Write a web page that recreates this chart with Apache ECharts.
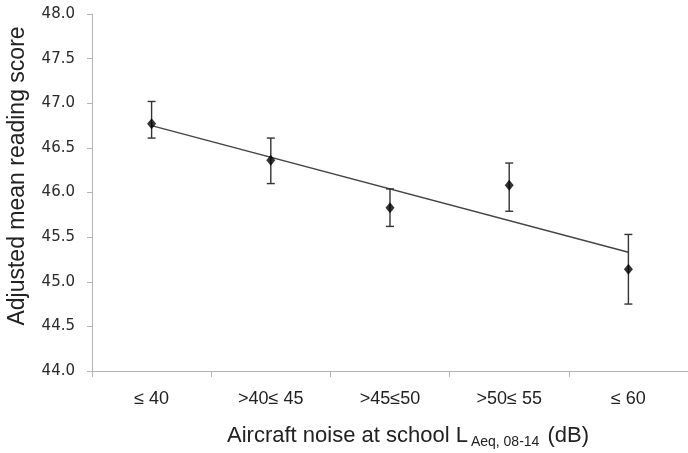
<!DOCTYPE html>
<html>
<head>
<meta charset="utf-8">
<script src="https://cdn.jsdelivr.net/npm/echarts@6/dist/echarts.min.js"></script>
<style>
  html, body { margin: 0; padding: 0; background: #fff; }
  #chart { width: 688px; height: 453px; }
</style>
</head>
<body>
<div id="chart"></div>
<script>
// Noise bands at school (dB)
const categories = ['≤ 40', '>40≤ 45', '>45≤50', '>50≤ 55', '≤ 60'];
// Adjusted mean reading score per band, with interval bounds
const means = [46.77, 46.36, 45.83, 46.08, 45.14];
const lower = [46.61, 46.10, 45.62, 45.79, 44.75];
const upper = [47.02, 46.61, 46.04, 46.33, 45.53];
// Fitted trend at the first and last band
const trendEnds = [46.75, 45.33];
// Y axis ticks
const yTicks = [44.0, 44.5, 45.0, 45.5, 46.0, 46.5, 47.0, 47.5, 48.0];

const chart = echarts.init(document.getElementById('chart'), null, { renderer: 'canvas' });

const axisGrey = '#b4b4b4';
const inkGrey = '#333333';

const option = {
  animation: false,
  backgroundColor: '#ffffff',
  grid: { left: 92, top: 14, width: 605, height: 357, containLabel: false },
  xAxis: {
    type: 'category',
    data: categories,
    boundaryGap: true,
    axisLine: { show: true, lineStyle: { color: axisGrey, width: 1 } },
    axisTick: { show: true, alignWithLabel: false, length: 6, lineStyle: { color: axisGrey } },
    axisLabel: {
      margin: 19,
      color: '#222',
      fontFamily: 'Liberation Sans, Arial, sans-serif',
      fontSize: 18
    },
    splitLine: { show: false }
  },
  yAxis: {
    type: 'value',
    min: yTicks[0],
    max: yTicks[yTicks.length - 1],
    interval: 0.5,
    axisLine: { show: true, lineStyle: { color: axisGrey, width: 1 } },
    axisTick: { show: true, length: 5, lineStyle: { color: axisGrey } },
    axisLabel: {
      margin: 17,
      color: '#2a2a2a',
      fontFamily: 'DejaVu Sans, Verdana, sans-serif',
      fontSize: 15,
      formatter: v => v.toFixed(1)
    },
    splitLine: { show: false }
  },
  graphic: [
    {
      type: 'text',
      x: 18,
      y: 176,
      rotation: Math.PI / 2,
      style: {
        text: 'Adjusted mean reading score',
        fill: '#222',
        font: '23px "Liberation Sans", Arial, sans-serif',
        textAlign: 'center',
        textVerticalAlign: 'middle'
      }
    },
    {
      type: 'text',
      x: 227,
      y: 436,
      style: {
        text: '{m|Aircraft noise at school L}{s|Aeq, 08-14}{m| (dB)}',
        textAlign: 'left',
        textVerticalAlign: 'middle',
        rich: {
          m: { fontFamily: 'Liberation Sans, Arial, sans-serif', fontSize: 22, fill: '#222', color: '#222' },
          s: { fontFamily: 'Liberation Sans, Arial, sans-serif', fontSize: 14, fill: '#222', color: '#222', padding: [12, 2, 0, 3] }
        }
      }
    }
  ],
  series: [
    {
      name: 'Trend',
      type: 'line',
      data: [[0, trendEnds[0]], [categories.length - 1, trendEnds[1]]],
      symbol: 'none',
      lineStyle: { color: '#444', width: 1.4 },
      z: 2
    },
    {
      name: 'Interval',
      type: 'custom',
      data: categories.map((c, i) => [i, lower[i], upper[i]]),
      renderItem: function (params, api) {
        const lo = api.coord([api.value(0), api.value(1)]);
        const hi = api.coord([api.value(0), api.value(2)]);
        const cap = 4;
        const style = { stroke: inkGrey, lineWidth: 1.4 };
        return {
          type: 'group',
          children: [
            { type: 'line', shape: { x1: lo[0], y1: lo[1], x2: hi[0], y2: hi[1] }, style },
            { type: 'line', shape: { x1: hi[0] - cap, y1: hi[1], x2: hi[0] + cap, y2: hi[1] }, style },
            { type: 'line', shape: { x1: lo[0] - cap, y1: lo[1], x2: lo[0] + cap, y2: lo[1] }, style }
          ]
        };
      },
      z: 3
    },
    {
      name: 'Mean',
      type: 'scatter',
      data: means.map((v, i) => [i, v]),
      symbol: 'diamond',
      symbolSize: [9, 11],
      itemStyle: { color: '#000' },
      z: 4
    }
  ]
};

chart.setOption(option);
</script>
</body>
</html>
